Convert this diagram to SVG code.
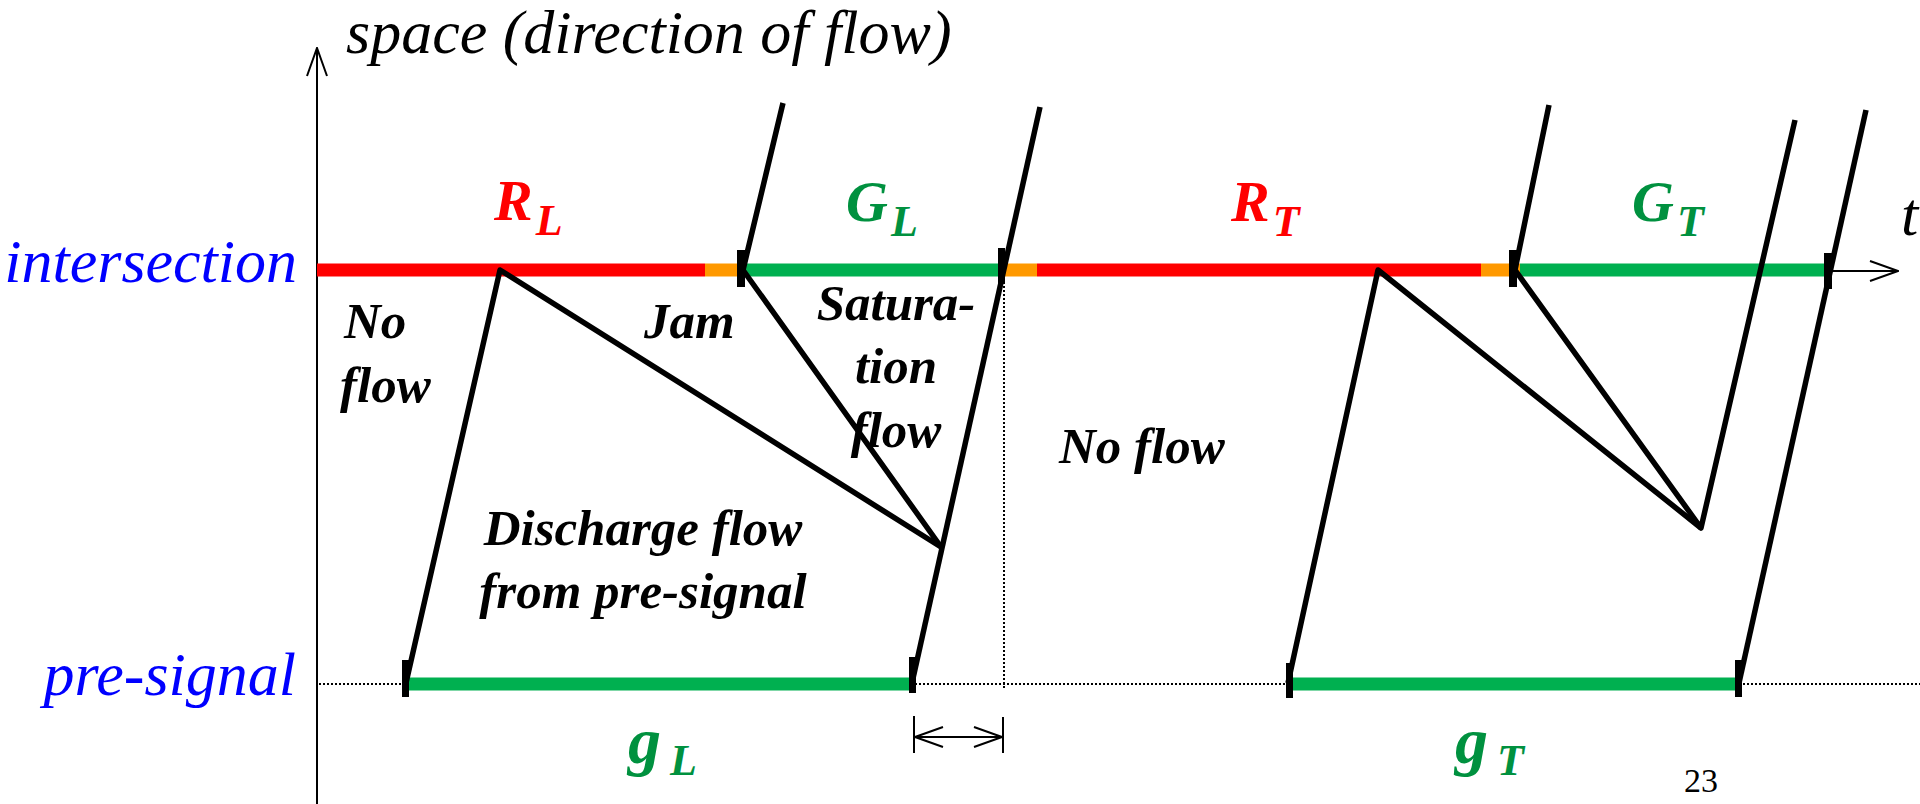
<svg xmlns="http://www.w3.org/2000/svg" width="1920" height="804" viewBox="0 0 1920 804">
<defs>
<style>
.ax{stroke:#000;stroke-width:2;fill:none}
.dot{stroke:#000;stroke-width:2;stroke-dasharray:2 2;fill:none}
.traj{stroke:#000;stroke-width:5.5;fill:none;stroke-linejoin:round}
.bar{stroke-width:13;fill:none}
.red{stroke:#FF0000}
.org{stroke:#FF9900}
.grn{stroke:#00B050}
.tick{fill:#000}
.axl{font-family:"Liberation Serif",serif;font-style:italic;font-size:62px}
.blue{fill:#0000FF}
.reg{font-family:"Liberation Serif",serif;font-style:italic;font-weight:bold;font-size:51px;fill:#000}
.sym{font-family:"Liberation Serif",serif;font-style:italic;font-weight:bold}
.sr{fill:#FF0000}
.sg{fill:#00913F}
</style>
<marker id="ah" viewBox="0 0 30 22" refX="29" refY="11" markerWidth="30" markerHeight="22" markerUnits="userSpaceOnUse" orient="auto-start-reverse">
<path d="M1,1 L29,11 L1,21" fill="none" stroke="#000" stroke-width="2"/>
</marker>
</defs>

<g id="axes">
<line class="ax" x1="317" y1="804" x2="317" y2="48" marker-end="url(#ah)"/>
<line class="ax" x1="1832" y1="271" x2="1898" y2="271" marker-end="url(#ah)"/>
<line class="dot" x1="319" y1="684" x2="1920" y2="684"/>
<line class="dot" x1="1004" y1="278" x2="1004" y2="690"/>
</g>

<g id="signal-intersection">
<line class="bar red" x1="317" y1="270" x2="705" y2="270"/>
<line class="bar org" x1="705" y1="270" x2="744" y2="270"/>
<line class="bar grn" x1="744" y1="270" x2="1000" y2="270"/>
<line class="bar org" x1="1000" y1="270" x2="1037" y2="270"/>
<line class="bar red" x1="1037" y1="270" x2="1481" y2="270"/>
<line class="bar org" x1="1481" y1="270" x2="1520" y2="270"/>
<line class="bar grn" x1="1520" y1="270" x2="1828" y2="270"/>
</g>

<g id="signal-presignal">
<line class="bar grn" x1="406" y1="684" x2="912" y2="684"/>
<line class="bar grn" x1="1290" y1="684" x2="1739" y2="684"/>
</g>

<g id="connectors">
<polyline class="traj" points="406,683 500,270 941,547"/>
<polyline class="traj" points="783,103 743,270 941,547"/>
<line class="traj" x1="1040" y1="107" x2="912" y2="683"/>
<polyline class="traj" points="1288,683 1378,270 1701,528"/>
<polyline class="traj" points="1549,105 1515,270 1701,528 1795,120"/>
<line class="traj" x1="1866" y1="110" x2="1739" y2="683"/>
</g>

<g id="ticks">
<rect class="tick" x="737" y="250" width="8" height="37"/>
<rect class="tick" x="998" y="248" width="7" height="36"/>
<rect class="tick" x="1509" y="250" width="8" height="37"/>
<rect class="tick" x="1824" y="253" width="8" height="36"/>
<rect class="tick" x="402" y="660" width="7" height="37"/>
<rect class="tick" x="909" y="657" width="7" height="36"/>
<rect class="tick" x="1286" y="663" width="7" height="35"/>
<rect class="tick" x="1735" y="660" width="7" height="37"/>
</g>

<g id="gap-dimension">
<line class="ax" x1="914" y1="716" x2="914" y2="753"/>
<line class="ax" x1="1003" y1="717" x2="1003" y2="753"/>
<line class="ax" x1="915" y1="737" x2="1002" y2="737" marker-start="url(#ah)" marker-end="url(#ah)"/>
</g>

<g id="axis-labels">
<text class="axl" x="346" y="53">space (direction of flow)</text>
<text class="axl blue" x="297" y="282" text-anchor="end">intersection</text>
<text class="axl blue" x="296" y="695" text-anchor="end">pre-signal</text>
<text class="axl" x="1901" y="235">t</text>
</g>

<g id="phase-labels">
<text class="sym sr" x="494" y="220" font-size="58">R<tspan font-size="44" dx="3" dy="15">L</tspan></text>
<text class="sym sg" x="846" y="221" font-size="58">G<tspan font-size="44" dx="3" dy="15">L</tspan></text>
<text class="sym sr" x="1231" y="221" font-size="58">R<tspan font-size="44" dx="3" dy="15">T</tspan></text>
<text class="sym sg" x="1632" y="221" font-size="58">G<tspan font-size="44" dx="3" dy="15">T</tspan></text>
<text class="sym sg" x="628" y="763" font-size="66">g<tspan font-size="44" dx="9" dy="12">L</tspan></text>
<text class="sym sg" x="1455" y="763" font-size="66">g<tspan font-size="44" dx="9" dy="12">T</tspan></text>
</g>

<g id="region-labels">
<text class="reg" x="344" y="338">No</text>
<text class="reg" x="340" y="402">flow</text>
<text class="reg" x="644" y="338">Jam</text>
<text class="reg" x="896" y="320" text-anchor="middle">Satura-</text>
<text class="reg" x="896" y="383" text-anchor="middle">tion</text>
<text class="reg" x="896" y="447" text-anchor="middle">flow</text>
<text class="reg" x="643" y="545" text-anchor="middle">Discharge flow</text>
<text class="reg" x="643" y="608" text-anchor="middle">from pre-signal</text>
<text class="reg" x="1059" y="463">No flow</text>
</g>

<g id="page-number">
<text x="1684" y="792" font-family="Liberation Serif, serif" font-size="34">23</text>
</g>
</svg>
